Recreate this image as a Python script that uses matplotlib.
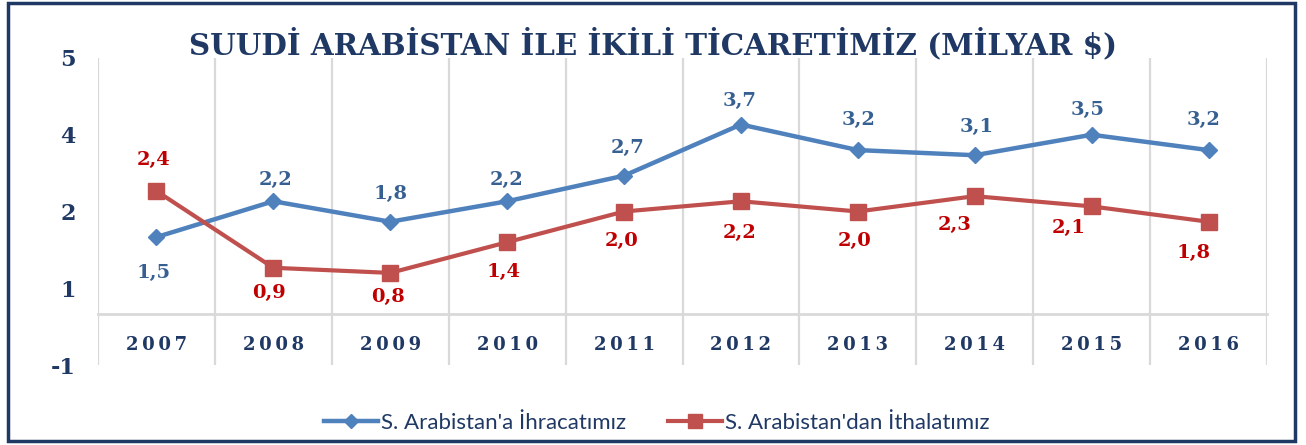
import matplotlib
matplotlib.use("Agg")
import matplotlib.pyplot as plt
import numpy as np
from matplotlib.lines import Line2D
from matplotlib.patches import Rectangle
from matplotlib.ticker import FuncFormatter

# veriler
years = ["2007", "2008", "2009", "2010", "2011", "2012", "2013", "2014", "2015", "2016"]
ihracat = [1.5, 2.2, 1.8, 2.2, 2.7, 3.7, 3.2, 3.1, 3.5, 3.2]
ithalat = [2.4, 0.9, 0.8, 1.4, 2.0, 2.2, 2.0, 2.3, 2.1, 1.8]
ihracat_etiket = ["1,5", "2,2", "1,8", "2,2", "2,7", "3,7", "3,2", "3,1", "3,5", "3,2"]
ithalat_etiket = ["2,4", "0,9", "0,8", "1,4", "2,0", "2,2", "2,0", "2,3", "2,1", "1,8"]
y_ticks = [-1, 0.5, 2, 3.5, 5]

title = "SUUDİ ARABİSTAN İLE İKİLİ TİCARETİMİZ (MİLYAR $)"
leg_ihracat = "S. Arabistan'a İhracatımız"
leg_ithalat = "S. Arabistan'dan İthalatımız"

# etiket kaydirmalari (piksel, y yukari)
ihr_off = [(-3, -36), (2, 21), (0, 28), (-1, 21), (4, 28), (-1, 24), (1, 30), (2, 28), (-4, 25), (-5, 30)]
ith_off = [(-3, 31), (-4, -25), (-2, -24), (-4, -30), (-2, -29), (-1, -32), (-3, -29), (-20, -29), (-23, -22), (-15, -31)]

NAVY = "#1F3864"
BLUE = "#4F81BD"
RED = "#C0504D"
BLUE_TXT = "#376092"
RED_TXT = "#C00000"
GRID = "#D9D9D9"
SERIF = "DejaVu Serif"


def spaced(s):
    # harf araligi icin ince bosluk
    return "\u2009".join(s)


fig = plt.figure(figsize=(13.06, 4.45), dpi=100)
ax = fig.add_axes([98 / 1306, 1 - 365 / 445, (1267 - 98) / 1306, (365 - 58) / 445])

x = np.arange(len(years))
ax.plot(x, ihracat, color=BLUE, lw=3.2, marker="D", ms=8.5, zorder=3)
ax.plot(x, ithalat, color=RED, lw=3.0, marker="s", ms=12, zorder=4)

for i in range(len(years)):
    ax.annotate(ihracat_etiket[i], (x[i], ihracat[i]), xytext=ihr_off[i],
                textcoords="offset pixels", ha="center", va="center",
                fontsize=14, fontweight="bold", family=SERIF, color=BLUE_TXT)
    ax.annotate(ithalat_etiket[i], (x[i], ithalat[i]), xytext=ith_off[i],
                textcoords="offset pixels", ha="center", va="center",
                fontsize=14, fontweight="bold", family=SERIF, color=RED_TXT)

ax.set_xlim(-0.5, len(years) - 0.5)
ax.set_ylim(-1, 5)
ax.set_yticks(y_ticks)
ax.yaxis.set_major_formatter(FuncFormatter(lambda v, p: str(int(np.floor(v + 0.5)))))
ax.set_xticks(x)
ax.set_xticklabels([spaced(y) for y in years])
ax.set_xticks(np.arange(len(years) + 1) - 0.5, minor=True)
ax.grid(which="minor", axis="x", color=GRID, lw=1.6)
ax.grid(which="major", visible=False)

for s in ["top", "right", "left"]:
    ax.spines[s].set_visible(False)
ax.spines["bottom"].set_position(("data", 0))
ax.spines["bottom"].set_color(GRID)
ax.spines["bottom"].set_linewidth(2)

ax.tick_params(axis="both", which="both", length=0)
ax.tick_params(axis="y", pad=16, labelsize=16, labelcolor=NAVY)
ax.tick_params(axis="x", pad=16, labelsize=13, labelcolor=NAVY)
for lab in ax.get_xticklabels() + ax.get_yticklabels():
    lab.set_fontweight("bold")
    lab.set_family(SERIF)

# baslik: genisligi referansa (926 px) uydur
t = fig.text(0.5, 1 - 54 / 445, title,
             ha="center", va="baseline", fontsize=21, fontweight="bold",
             family=SERIF, color=NAVY)
renderer = fig.canvas.get_renderer()
w = t.get_window_extent(renderer).width
t.set_fontsize(21 * 926 / w)

handles = [Line2D([], [], color=BLUE, lw=3.2, marker="D", ms=7.5),
           Line2D([], [], color=RED, lw=3.0, marker="s", ms=10)]
fig.legend(handles, [leg_ihracat, leg_ithalat], loc="center",
           bbox_to_anchor=(0.503, 1 - 423 / 445), ncol=2, frameon=False,
           prop={"family": "Lato", "size": 16}, labelcolor=NAVY,
           handlelength=2.4, handletextpad=0.15, columnspacing=1.9,
           borderpad=0, borderaxespad=0)

fig.patches.append(Rectangle((8 / 1306, 1 - 441 / 445), (1295 - 8) / 1306, (441 - 3) / 445,
                             transform=fig.transFigure, fill=False, edgecolor=NAVY, lw=2.5))

fig.savefig("out.png", dpi=100)
